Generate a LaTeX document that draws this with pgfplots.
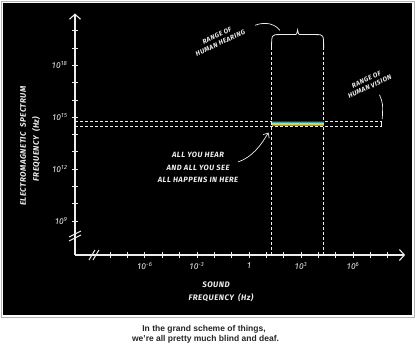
\documentclass[border=0pt]{standalone}
\usepackage{fontspec}
\setmainfont{Liberation Sans}
\newfontfamily\hand[LetterSpace=6]{Fira Sans}
\usepackage{pgfplots}
\pgfplotsset{compat=1.18}
\usetikzlibrary{arrows.meta}
\definecolor{ink}{HTML}{EDEDED}
\definecolor{vnavy}{HTML}{1E3C6E}
\definecolor{vteal}{HTML}{3AA59A}
\definecolor{vyel}{HTML}{E3CF4A}
\definecolor{vora}{HTML}{D0702A}
\tikzset{dsh/.style={ink, line width=0.7pt, dash pattern=on 3pt off 2pt},
  hnd/.style={text=ink, font=\hand\bfseries\itshape\fontsize{6.6}{8}\selectfont, inner sep=1pt}}
\begin{document}
\begin{tikzpicture}[x=1pt,y=1pt]
\fill[white] (0,0) rectangle (420,351);
\draw[gray!60, line width=0.8pt] (1,34) rectangle (414,350);
\fill[black] (3,36) rectangle (412,348);
\begin{axis}[
  at={(75pt,96pt)}, anchor=south west,
  x=17.35pt, y=17.3pt,
  xmin=-10.03, xmax=9, ymin=7.04, ymax=21,
  enlargelimits=false, clip=false,
  axis lines=left,
  axis line style={ink, line width=1.1pt},
  x axis line style={-{Straight Barb[length=5pt,width=11pt,line width=1.1pt]}},
  y axis line style={-{Straight Barb[length=5pt,width=11pt,line width=1.1pt]}},
  tick style={ink, line width=0.9pt},
  tick align=center, major tick length=6pt,
  xtick={-8,...,8},
  xticklabels={,,10\textsuperscript{-6},,,10\textsuperscript{-3},,,1,,,10\textsuperscript{3},,,10\textsuperscript{6},,},
  ytick={9,...,20},
  yticklabels={10\textsuperscript{9},,,10\textsuperscript{12},,,10\textsuperscript{15},,,10\textsuperscript{18},,},
  ticklabel style={text=ink, font=\hand\itshape\fontsize{8.5}{9}\selectfont},
  xticklabel style={yshift=-1pt},
  yticklabel style={xshift=-1pt},
]
% visible-light dashed lines
\addplot[dsh] coordinates {(-10.03,14.5) (7.65,14.5)};
\addplot[dsh] coordinates {(-10.03,14.78) (7.65,14.78)};
\addplot[ink, line width=0.7pt] coordinates {(7.65,14.5) (7.65,14.78)};
% hearing dashed lines
\addplot[dsh] coordinates {(1.3,7.04) (1.3,19.0)};
\addplot[dsh] coordinates {(4.3,7.04) (4.3,19.0)};
% visible band
\addplot[draw=none, fill=vora] coordinates {(1.3,14.5) (4.3,14.5) (4.3,14.57) (1.3,14.57)} -- cycle;
\addplot[draw=none, fill=vyel] coordinates {(1.3,14.57) (4.3,14.57) (4.3,14.65) (1.3,14.65)} -- cycle;
\addplot[draw=none, fill=vteal] coordinates {(1.3,14.65) (4.3,14.65) (4.3,14.72) (1.3,14.72)} -- cycle;
\addplot[draw=none, fill=vnavy] coordinates {(1.3,14.72) (4.3,14.72) (4.3,14.79) (1.3,14.79)} -- cycle;
% brace
\draw[ink, line width=0.8pt] (1.3,19.0) .. controls (1.3,19.78) .. (1.75,19.78) -- (2.55,19.78)
  .. controls (2.75,19.78) .. (2.8,20.05) .. controls (2.85,19.78) .. (3.05,19.78) -- (3.85,19.78)
  .. controls (4.3,19.78) .. (4.3,19.0);
\draw[ink, line width=0.7pt] (0.35,20.32) .. controls (0.95,20.55) and (1.5,20.4) .. (1.78,20.02);
\node[hnd, rotate=25, align=center] at (-1.75,19.5) {RANGE OF\\HUMAN HEARING};
% vision
\node[hnd, rotate=25, align=center] at (6.86,16.98) {RANGE OF\\HUMAN VISION};
\draw[ink, line width=0.7pt] (7.52,16.3) .. controls (7.72,15.8) .. (7.68,14.9);
% all you hear
\node[text=ink, font=\hand\bfseries\itshape\fontsize{7.6}{12.5}\selectfont, align=center] at (-2.94,12.08)
  {ALL YOU HEAR\\AND ALL YOU SEE\\ALL HAPPENS IN HERE};
\draw[ink, line width=0.7pt, -{Straight Barb[length=4pt,width=7pt]}] (-0.63,12.42) .. controls (0.2,12.7) and (0.7,13.4) .. (1.12,14.12);
% axis breaks
\draw[ink, line width=1pt] ([xshift=-6pt,yshift=-5pt]axis cs:-8.88,7.04) -- ([xshift=0pt,yshift=5pt]axis cs:-8.88,7.04);
\draw[ink, line width=1pt] ([xshift=-2pt,yshift=-5pt]axis cs:-8.88,7.04) -- ([xshift=4pt,yshift=5pt]axis cs:-8.88,7.04);
\draw[ink, line width=1pt] ([xshift=-6pt,yshift=-4pt]axis cs:-10.03,8.08) -- ([xshift=6pt,yshift=2pt]axis cs:-10.03,8.08);
\draw[ink, line width=1pt] ([xshift=-6pt,yshift=0pt]axis cs:-10.03,8.08) -- ([xshift=6pt,yshift=6pt]axis cs:-10.03,8.08);
\end{axis}
% axis labels
\node[hnd, font=\hand\bfseries\itshape\fontsize{8}{9}\selectfont, rotate=90] at (23,205) {ELECTROMAGNETIC\enspace SPECTRUM};
\node[hnd, font=\hand\bfseries\itshape\fontsize{8}{9}\selectfont, rotate=90] at (36,202) {FREQUENCY\enspace (Hz)};
\node[hnd, font=\hand\bfseries\itshape\fontsize{8}{9}\selectfont] at (216,66) {SOUND};
\node[hnd, font=\hand\bfseries\itshape\fontsize{8}{9}\selectfont] at (221,53) {FREQUENCY\enspace (Hz)};
% caption
\node[font=\bfseries\fontsize{8.5}{10}\selectfont, text=black!85] at (204,22) {In the grand scheme of things,};
\node[font=\bfseries\fontsize{8.5}{10}\selectfont, text=black!85] at (205.5,12) {we're all pretty much blind and deaf.};
\end{tikzpicture}
\end{document}
